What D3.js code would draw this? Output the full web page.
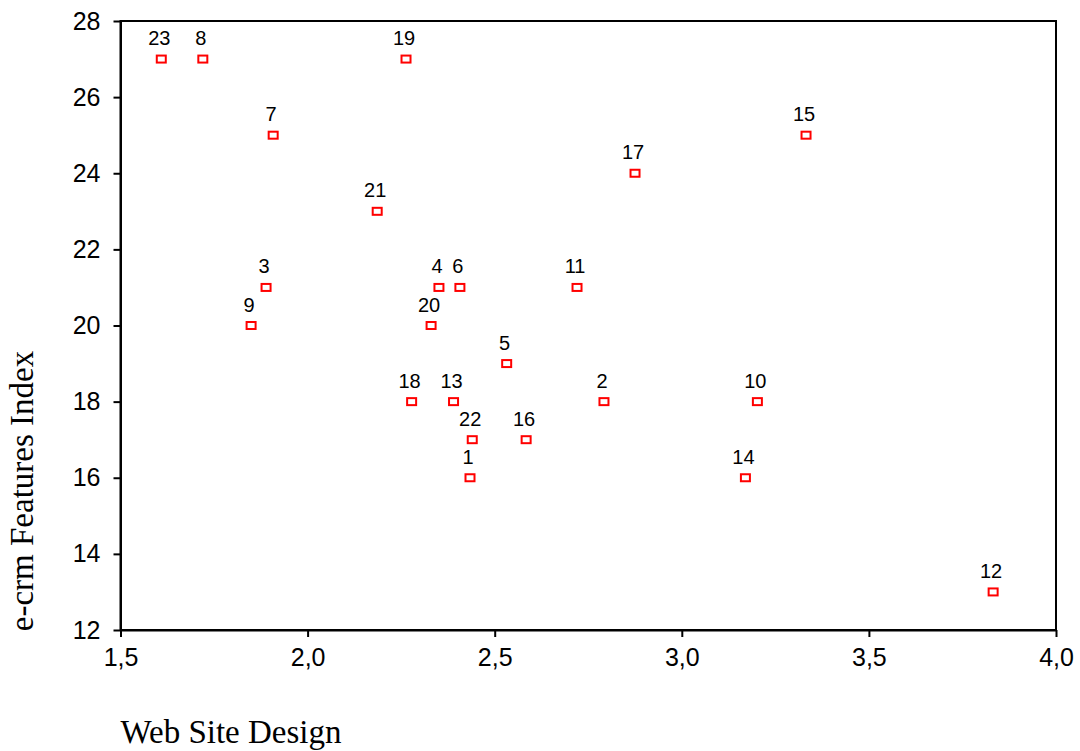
<!DOCTYPE html>
<html>
<head>
<meta charset="utf-8">
<script src="https://cdn.jsdelivr.net/npm/d3@7"></script>
<style>
html,body{margin:0;padding:0;background:#fff;}
svg{display:block;}
</style>
</head>
<body>
<svg id="chart" width="1080" height="751"></svg>
<script>
// Data
const ids = [1,2,3,4,5,6,7,8,9,10,11,12,13,14,15,16,17,18,19,20,21,22,23];
const webSiteDesign = [2.434,2.792,1.889,2.351,2.532,2.407,1.908,1.720,1.849,3.202,2.720,3.832,2.390,3.170,3.332,2.584,2.875,2.278,2.263,2.330,2.186,2.440,1.609];
const ecrmIndex = [16,18,21,21,19,21,25,27,20,18,21,13,18,16,25,17,24,18,27,20,23,17,27];
const xTicks = [1.5,2.0,2.5,3.0,3.5,4.0];
const yTicks = [12,14,16,18,20,22,24,26,28];

(function(){
const svg = d3.select("#chart");
const pLeft = 120.5, pRight = 1056, pTop = 21, pBottom = 630;

const x = d3.scaleLinear().domain([1.5, 4.0]).range([pLeft, pRight]);
const y = d3.scaleLinear().domain([12, 28]).range([pBottom, pTop]);

const fmt = v => d3.format(".1f")(v).replace(".", ",");

// Frame
svg.append("rect")
  .attr("x", pLeft).attr("y", pTop)
  .attr("width", pRight - pLeft).attr("height", pBottom - pTop)
  .attr("fill", "none").attr("stroke", "#000").attr("stroke-width", 2);

// Axes
const xAxis = svg.append("g")
  .attr("transform", `translate(0,${pBottom})`)
  .call(d3.axisBottom(x).tickValues(xTicks).tickFormat(fmt).tickSize(7).tickPadding(11).tickSizeOuter(0));
const yAxis = svg.append("g")
  .attr("transform", `translate(${pLeft},0)`)
  .call(d3.axisLeft(y).tickValues(yTicks).tickFormat(d3.format("d")).tickSize(7).tickPadding(13).tickSizeOuter(0));

[xAxis, yAxis].forEach(g => {
  g.select(".domain").attr("stroke", "#000").attr("stroke-width", 2);
  g.selectAll(".tick line").attr("stroke", "#000").attr("stroke-width", 2);
  g.selectAll(".tick text")
    .attr("fill", "#000")
    .style("font-family", "Liberation Sans, Arial, sans-serif")
    .style("font-size", "25px");
});

// Points
const pts = ids.map((id, i) => ({id, xv: webSiteDesign[i], yv: ecrmIndex[i]}));

svg.append("g").selectAll("rect")
  .data(pts).enter().append("rect")
  .attr("x", d => x(d.xv) - 4.5)
  .attr("y", d => y(d.yv) - 3.5)
  .attr("width", 9).attr("height", 7)
  .attr("fill", "#fff")
  .attr("stroke", "#ff0000")
  .attr("stroke-width", 2);

svg.append("g").selectAll("text")
  .data(pts).enter().append("text")
  .attr("x", d => x(d.xv) - 2)
  .attr("y", d => y(d.yv) - 14)
  .attr("text-anchor", "middle")
  .style("font-family", "Liberation Sans, Arial, sans-serif")
  .style("font-size", "20px")
  .attr("fill", "#000")
  .text(d => d.id);

// Axis titles
svg.append("text")
  .attr("x", pLeft)
  .attr("y", 743)
  .style("font-family", "Liberation Serif, Times New Roman, serif")
  .style("font-size", "33px")
  .attr("fill", "#000")
  .text("Web Site Design");

svg.append("text")
  .attr("transform", "translate(33,491) rotate(-90)")
  .attr("text-anchor", "middle")
  .style("font-family", "Liberation Serif, Times New Roman, serif")
  .style("font-size", "33px")
  .attr("fill", "#000")
  .text("e-crm Features Index");
})();
</script>
</body>
</html>
